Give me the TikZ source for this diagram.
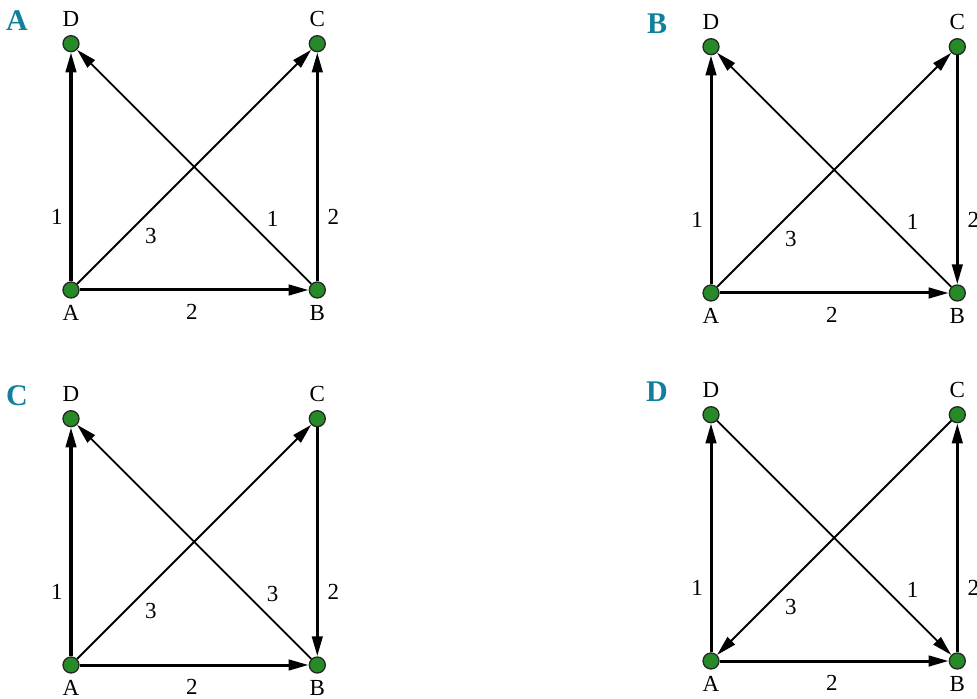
\documentclass[tikz,border=0pt]{standalone}
\usepackage{fontspec}
\setmainfont{Liberation Serif}
\usetikzlibrary{arrows.meta,positioning}
\definecolor{tagteal}{RGB}{18,128,156}
\definecolor{vgreen}{RGB}{38,138,38}

\begin{document}
\begin{tikzpicture}[
  x=0.5pt, y=0.5pt,
  node distance=114.5pt,
  vtx/.style={circle, draw=black!85, line width=0.65pt, fill=vgreen, minimum size=8pt, inner sep=0pt},
  lbl/.style={font=\fontsize{11.5}{13}\selectfont, inner sep=0pt},
  tag/.style={font=\fontsize{15}{17}\selectfont\bfseries, text=tagteal, inner sep=0pt},
  thk/.style={-{Triangle[length=10pt,width=5.2pt]}, line width=1.5pt},
  thn/.style={-{Triangle[length=10pt,width=5.2pt]}, line width=0.9pt},
  every label/.style={lbl},
  label distance=4pt
]
\useasboundingbox (-71,-409) rectangle (906,290);

% panel A
\begin{scope}
\node[tag] at (-54,269) {A};
\node[vtx, label={[label distance=3pt]below:A}] (A1) at (0,0) {};
\node[vtx, label={[label distance=3pt]below:B}, right=of A1] (B1) {};
\node[vtx, label=above:D, above=of A1] (D1) {};
\node[vtx, label=above:C, above=of B1] (C1) {};
\draw[thk] (A1) -- node[lbl, pos=0.28, xshift=-7pt] {1} (D1);
\draw[thk] (A1) -- node[lbl, pos=0.49, yshift=-11pt] {2} (B1);
\draw[thn] (A1) -- node[lbl, pos=0.26, xshift=6.5pt, yshift=-6.5pt] {3} (C1);
\draw[thn] (B1) -- node[lbl, pos=0.22, xshift=6.5pt, yshift=6.5pt] {1} (D1);
\draw[thk] (B1) -- node[lbl, pos=0.28, xshift=8pt] {2} (C1);
\end{scope}

% panel B
\begin{scope}[shift={(640,-3)}]
\node[tag] at (-54,269) {B};
\node[vtx, label={[label distance=3pt]below:A}] (A2) at (0,0) {};
\node[vtx, label={[label distance=3pt]below:B}, right=of A2] (B2) {};
\node[vtx, label=above:D, above=of A2] (D2) {};
\node[vtx, label=above:C, above=of B2] (C2) {};
\draw[thk] (A2) -- node[lbl, pos=0.28, xshift=-7pt] {1} (D2);
\draw[thk] (A2) -- node[lbl, pos=0.49, yshift=-11pt] {2} (B2);
\draw[thn] (A2) -- node[lbl, pos=0.26, xshift=6.5pt, yshift=-6.5pt] {3} (C2);
\draw[thn] (B2) -- node[lbl, pos=0.22, xshift=6.5pt, yshift=6.5pt] {1} (D2);
\draw[thk] (C2) -- node[lbl, pos=0.72, xshift=8pt] {2} (B2);
\end{scope}

% panel C
\begin{scope}[shift={(0,-375)}]
\node[tag] at (-54,269) {C};
\node[vtx, label={[label distance=3pt]below:A}] (A3) at (0,0) {};
\node[vtx, label={[label distance=3pt]below:B}, right=of A3] (B3) {};
\node[vtx, label=above:D, above=of A3] (D3) {};
\node[vtx, label=above:C, above=of B3] (C3) {};
\draw[thk] (A3) -- node[lbl, pos=0.28, xshift=-7pt] {1} (D3);
\draw[thk] (A3) -- node[lbl, pos=0.49, yshift=-11pt] {2} (B3);
\draw[thn] (A3) -- node[lbl, pos=0.26, xshift=6.5pt, yshift=-6.5pt] {3} (C3);
\draw[thn] (B3) -- node[lbl, pos=0.22, xshift=6.5pt, yshift=6.5pt] {3} (D3);
\draw[thk] (C3) -- node[lbl, pos=0.72, xshift=8pt] {2} (B3);
\end{scope}

% panel D
\begin{scope}[shift={(640,-371)}]
\node[tag] at (-54,269) {D};
\node[vtx, label={[label distance=3pt]below:A}] (A4) at (0,0) {};
\node[vtx, label={[label distance=3pt]below:B}, right=of A4] (B4) {};
\node[vtx, label=above:D, above=of A4] (D4) {};
\node[vtx, label=above:C, above=of B4] (C4) {};
\draw[thk] (A4) -- node[lbl, pos=0.28, xshift=-7pt] {1} (D4);
\draw[thk] (A4) -- node[lbl, pos=0.49, yshift=-11pt] {2} (B4);
\draw[thn] (C4) -- node[lbl, pos=0.74, xshift=6.5pt, yshift=-6.5pt] {3} (A4);
\draw[thn] (D4) -- node[lbl, pos=0.78, xshift=6.5pt, yshift=6.5pt] {1} (B4);
\draw[thk] (B4) -- node[lbl, pos=0.28, xshift=8pt] {2} (C4);
\end{scope}
\end{tikzpicture}
\end{document}
